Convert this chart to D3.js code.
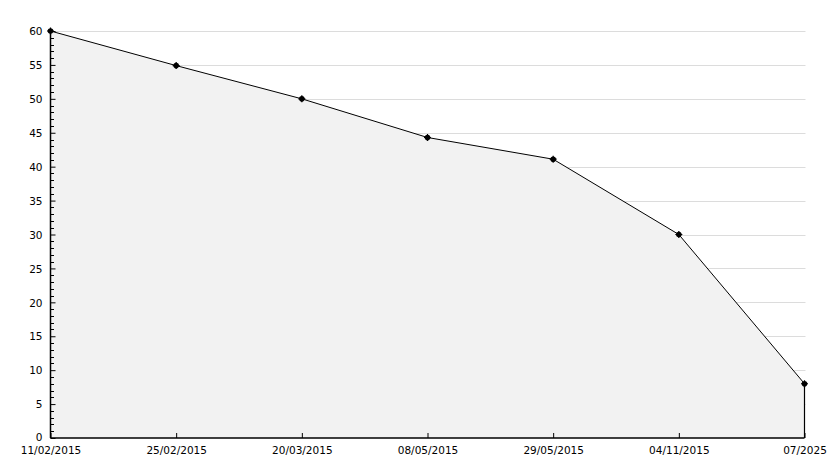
<!DOCTYPE html>
<html><head><meta charset="utf-8">
<script src="https://cdn.jsdelivr.net/npm/d3@7"></script>
<style>body{margin:0;background:#fff}svg{display:block}text{font-family:"DejaVu Sans",Verdana,sans-serif;font-size:10.5px;fill:#000}</style>
</head><body><svg id="c" width="834" height="468"></svg>
<script>
const categories = ["11/02/2015","25/02/2015","20/03/2015","08/05/2015","29/05/2015","04/11/2015","07/2025"];
const values = [60, 54.9, 50, 44.3, 41.1, 30, 8];
const yTicks = [0,5,10,15,20,25,30,35,40,45,50,55,60];

const svg = d3.select("#c");
const L = 50.5, R = 804.5, T = 31, B = 438;
const x = d3.scalePoint().domain(categories).range([L, R]);
const y = d3.scaleLinear().domain([0, 60]).range([B, T]);
const FONT = '"DejaVu Sans",Verdana,sans-serif';

// grid
svg.append("g").selectAll("line").data(yTicks.filter(d => d > 0)).join("line")
  .attr("x1", L).attr("x2", R + 1).attr("y1", d => Math.round(y(d)) + 0.5).attr("y2", d => Math.round(y(d)) + 0.5)
  .attr("stroke", "#dcdcdc").attr("stroke-width", 1);

// area
const area = d3.area().x((d, i) => x(categories[i])).y0(B).y1(d => y(d));
svg.append("path").datum(values).attr("d", area).attr("fill", "#f2f2f2");
const line = d3.line().x((d, i) => x(categories[i])).y(d => y(d));
svg.append("path").datum(values).attr("d", line).attr("fill", "none").attr("stroke", "#000").attr("stroke-width", 1);
// right edge
svg.append("line").attr("x1", R).attr("x2", R).attr("y1", y(values[values.length - 1])).attr("y2", B)
  .attr("stroke", "#000").attr("stroke-width", 1.2);

// minor y ticks
const minor = d3.range(0, 61, 1).filter(d => d % 5 !== 0);
svg.append("g").selectAll("line").data(minor).join("line")
  .attr("x1", L).attr("x2", L + 3.5).attr("y1", d => Math.round(y(d)) + 0.5).attr("y2", d => Math.round(y(d)) + 0.5)
  .attr("stroke", "#000");

// y axis
const yAxis = d3.axisRight(y).tickValues(yTicks).tickSize(5).tickFormat(d3.format("d"));
const gy = svg.append("g").attr("transform", `translate(${L},0)`).call(yAxis);
gy.select(".domain").attr("stroke", "#000").attr("stroke-width", 1.5).attr("d", `M0,${T}V${B}`);
gy.selectAll(".tick line").attr("stroke", "#000");
gy.selectAll(".tick text").attr("x", -8).attr("text-anchor", "end").attr("dy", d => d === 0 ? "0.25em" : "0.35em").attr("fill", "#000")
  .style("font-family", FONT).style("font-size", "10.5px");

// x axis
const xAxis = d3.axisTop(x).tickSize(5);
const gx = svg.append("g").attr("transform", `translate(0,${B})`).call(xAxis);
gx.select(".domain").attr("stroke", "#000").attr("stroke-width", 1.5).attr("d", `M${L},0H${R}`);
gx.selectAll(".tick line").attr("stroke", "#000");
gx.selectAll(".tick text").attr("y", 15.5).attr("dy", 0).attr("fill", "#000")
  .style("font-family", FONT).style("font-size", "10.5px");

// markers
const mk = svg.append("g").selectAll("g").data(values).join("g")
  .attr("transform", (d, i) => `translate(${x(categories[i])},${y(d)})`);
mk.append("circle").attr("r", 2.8).attr("fill", "#000");
mk.append("path").attr("d", "M-3.5,0H3.5M0,-3.5V3.5").attr("stroke", "#000").attr("stroke-width", 1.2);
</script></body></html>
